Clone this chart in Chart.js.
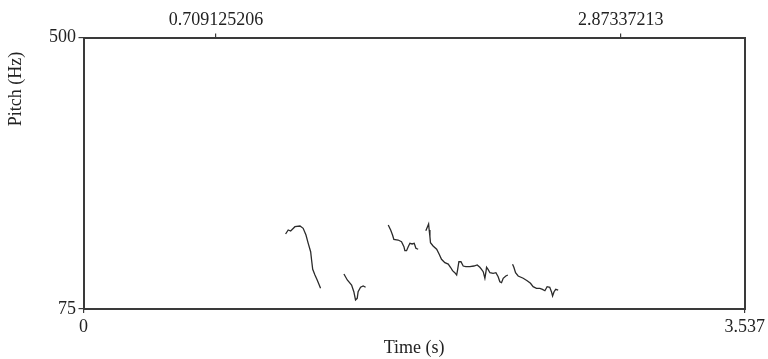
<!DOCTYPE html>
<html>
<head>
<meta charset="utf-8">
<title>Pitch</title>
<script src="https://cdn.jsdelivr.net/npm/chart.js@4/dist/chart.umd.min.js"></script>
<style>
    body { margin: 0; background: #fff; }
    canvas { display: block; }
</style>
</head>
<body>
<canvas id="grafico" width="768" height="359"></canvas>
<script>
// pitch contours (time in s, pitch in Hz), one pair of arrays per voiced stretch
let tiempo1 = [1.081, 1.095, 1.108, 1.131, 1.158, 1.175, 1.190, 1.202, 1.215, 1.220, 1.226, 1.238, 1.250, 1.261, 1.268],
    pitch1 = [192.4, 198.7, 197.1, 203.8, 204.9, 201.3, 190.8, 177.8, 164.7, 151.7, 137.1, 128.2, 120.4, 112.6, 107.4];

let tiempo2 = [1.393, 1.411, 1.434, 1.446, 1.455, 1.464, 1.469, 1.482, 1.496, 1.509],
    pitch2 = [129.8, 120.4, 112.6, 102.1, 89.1, 91.7, 102.1, 109.0, 111.0, 109.0];

let tiempo3 = [1.630, 1.643, 1.653, 1.660, 1.683, 1.701, 1.714, 1.719, 1.728, 1.737, 1.746, 1.758, 1.769, 1.778, 1.790],
    pitch3 = [206.5, 198.7, 190.8, 184.1, 183.0, 180.4, 172.5, 166.3, 166.3, 172.5, 177.8, 176.8, 177.8, 170.0, 168.5];

let tiempo4 = [1.831, 1.840, 1.846, 1.849, 1.853, 1.856, 1.870, 1.889, 1.902, 1.915, 1.933, 1.951, 1.963, 1.974,
               1.986, 1.996, 2.001, 2.008, 2.019, 2.031, 2.045, 2.067, 2.088, 2.106, 2.120, 2.129, 2.138, 2.147,
               2.152, 2.156, 2.164, 2.174, 2.191, 2.206, 2.218, 2.227, 2.236, 2.245, 2.259, 2.270],
    pitch4 = [197.6, 203.8, 208.1, 198.7, 188.2, 178.8, 173.6, 168.5, 161.1, 152.8, 147.5, 145.4, 140.3, 135.0,
              131.8, 128.2, 136.1, 149.0, 149.0, 142.3, 141.2, 141.2, 142.3, 143.9, 140.3, 137.1, 133.4, 123.1,
              131.8, 140.3, 137.1, 131.8, 130.9, 131.8, 125.6, 117.7, 116.2, 123.1, 126.7, 128.2];

let tiempo5 = [2.295, 2.302, 2.311, 2.325, 2.352, 2.373, 2.391, 2.405, 2.423, 2.441, 2.455, 2.468, 2.480, 2.494,
               2.503, 2.509, 2.517, 2.526, 2.539],
    pitch5 = [145.0, 140.3, 131.8, 126.7, 123.1, 119.3, 115.2, 109.9, 107.4, 107.4, 105.8, 103.6, 109.9, 109.0,
              102.1, 95.4, 102.1, 105.8, 104.7];

// axis ranges and tick labels
let tiempoMin = 0, tiempoMax = 3.537;
let pitchMin = 75, pitchMax = 500;
let ticksAbajo = [0, 3.537], etiquetasAbajo = ['0', '3.537'];
let ticksArriba = [0.709125206, 2.87337213], etiquetasArriba = ['0.709125206', '2.87337213'];
let ticksPitch = [75, 500], etiquetasPitch = ['75', '500'];

let fuente = '"Liberation Serif", "Times New Roman", serif';
let colorEje = '#3a3a3a';

function puntos(t, p) {
    return t.map(function (v, i) { return { x: v, y: p[i] }; });
}

let tramos = [[tiempo1, pitch1], [tiempo2, pitch2], [tiempo3, pitch3], [tiempo4, pitch4], [tiempo5, pitch5]];

// y axis title sits high on the left, drawn by hand
let tituloPitch = {
    id: 'tituloPitch',
    afterDraw: function (chart) {
        let c = chart.ctx;
        c.save();
        c.translate(16.5, 89);
        c.rotate(-Math.PI / 2);
        c.font = '18px ' + fuente;
        c.fillStyle = '#222';
        c.textAlign = 'center';
        c.textBaseline = 'middle';
        c.fillText('Pitch (Hz)', 0, 0);
        c.restore();
    }
};

function ejeX(pos, valores, etiquetas, alto, pad) {
    return {
        type: 'linear',
        position: pos,
        min: tiempoMin,
        max: tiempoMax,
        afterBuildTicks: function (s) { s.ticks = valores.map(function (v) { return { value: v }; }); },
        afterFit: function (s) { s.height = alto; },
        ticks: {
            autoSkip: false,
            maxRotation: 0,
            padding: pad,
            color: '#222',
            font: { family: fuente, size: 18 },
            callback: function (v, i) { return etiquetas[i]; }
        },
        grid: { drawOnChartArea: false, tickLength: 4, color: colorEje, lineWidth: 1.2 },
        border: { display: true, color: colorEje, width: 2 }
    };
}

let ctx = document.getElementById('grafico');
let myChart = new Chart(ctx, {
    type: 'scatter',
    data: {
        datasets: tramos.map(function (tr) {
            return {
                data: puntos(tr[0], tr[1]),
                showLine: true,
                borderColor: '#2b2b2b',
                borderWidth: 1.3,
                pointRadius: 0,
                tension: 0
            };
        })
    },
    options: {
        responsive: false,
        animation: false,
        devicePixelRatio: 1,
        layout: { padding: { left: 0, right: 23, top: 0, bottom: 0 } },
        plugins: { legend: { display: false }, tooltip: { enabled: false } },
        scales: {
            x: Object.assign(ejeX('bottom', ticksAbajo, etiquetasAbajo, 50, 3), {
                title: {
                    display: true,
                    text: 'Time (s)',
                    color: '#222',
                    font: { family: fuente, size: 18 },
                    padding: { top: 0, bottom: 0 }
                }
            }),
            x2: ejeX('top', ticksArriba, etiquetasArriba, 37.5, 2.5),
            y: {
                type: 'linear',
                position: 'left',
                min: pitchMin,
                max: pitchMax,
                afterBuildTicks: function (s) { s.ticks = ticksPitch.map(function (v) { return { value: v }; }); },
                afterFit: function (s) { s.width = 83.5; },
                ticks: {
                    padding: 2.5,
                    color: '#222',
                    font: { family: fuente, size: 18 },
                    callback: function (v, i) { return etiquetasPitch[i]; }
                },
                grid: { drawOnChartArea: false, tickLength: 5, color: colorEje, lineWidth: 1.2 },
                border: { display: true, color: colorEje, width: 2 }
            },
            y2: {
                type: 'linear',
                position: 'right',
                min: pitchMin,
                max: pitchMax,
                afterFit: function (s) { s.width = 0; },
                ticks: { display: false },
                grid: { display: false },
                border: { display: true, color: colorEje, width: 2 }
            }
        }
    },
    plugins: [tituloPitch]
});
</script>
</body>
</html>
